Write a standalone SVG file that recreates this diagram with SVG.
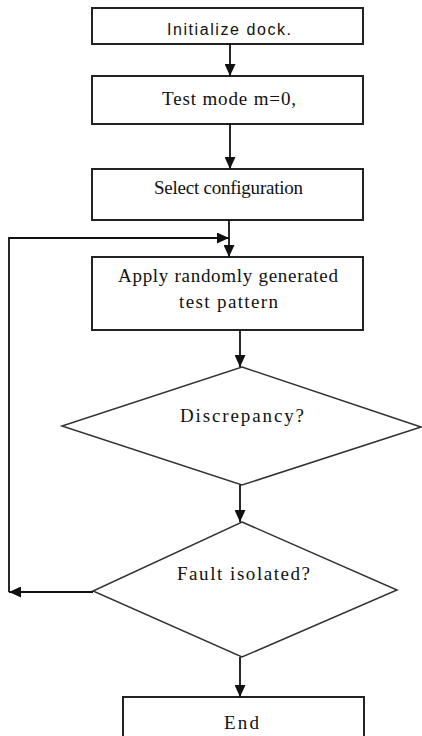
<svg xmlns="http://www.w3.org/2000/svg" width="422" height="736" viewBox="0 0 422 736">
<defs>
<marker id="ah" markerUnits="userSpaceOnUse" markerWidth="12" markerHeight="11" refX="12" refY="5.5" orient="auto">
<path d="M0,0 L12,5.5 L0,11 Z" fill="#111"/>
</marker>
<style>
.box{fill:#fff;stroke:#222;stroke-width:2}
.dia{fill:#fff;stroke:#333;stroke-width:1.5}
.t{font-family:"Liberation Serif","Times New Roman",serif;font-size:19px;fill:#111;text-anchor:middle}
.s{font-family:"Liberation Sans",Arial,sans-serif;font-size:16px;fill:#111;text-anchor:middle}
.c{fill:none;stroke:#111;stroke-width:1.8}
</style>
</defs>
<rect width="422" height="736" fill="#fff"/>
<g id="n1"><rect class="box" x="92" y="8" width="271" height="36"/><text class="s" x="229" y="35" textLength="124">Initialize dock.</text></g>
<g id="n2"><rect class="box" x="92" y="76" width="271" height="48"/><text class="t" x="229" y="105" textLength="134">Test mode m=0,</text></g>
<g id="n3"><rect class="box" x="92" y="169" width="271" height="51"/><text class="t" x="228.5" y="194" textLength="149">Select configuration</text></g>
<g id="n4"><rect class="box" x="92" y="257" width="271" height="73"/><text class="t" x="228" y="282" textLength="220">Apply randomly generated</text><text class="t" x="228.5" y="308" textLength="99">test pattern</text></g>
<g id="n5"><polygon class="dia" points="242,367 421,427 242,485 62,426"/><text class="t" x="242" y="422" textLength="124">Discrepancy?</text></g>
<g id="n6"><polygon class="dia" points="242,522 397,590 242,657 93,591"/><text class="t" x="243.5" y="580" textLength="133">Fault isolated?</text></g>
<g id="n7"><rect class="box" x="123" y="697" width="241" height="50"/><text class="t" x="241.5" y="729" textLength="35">End</text></g>
<g id="connectors">
<line class="c" x1="230" y1="44" x2="230" y2="76" marker-end="url(#ah)"/>
<line class="c" x1="230" y1="124" x2="230" y2="169" marker-end="url(#ah)"/>
<line class="c" x1="229" y1="220" x2="229" y2="257" marker-end="url(#ah)"/>
<line class="c" x1="240" y1="330" x2="240" y2="367" marker-end="url(#ah)"/>
<line class="c" x1="240" y1="485" x2="240" y2="522" marker-end="url(#ah)"/>
<line class="c" x1="240" y1="657" x2="240" y2="697" marker-end="url(#ah)"/>
<line class="c" x1="93" y1="592" x2="9" y2="592" marker-end="url(#ah)"/>
<polyline class="c" points="9,592 9,238 229,238" marker-end="url(#ah)"/>
</g>
</svg>
